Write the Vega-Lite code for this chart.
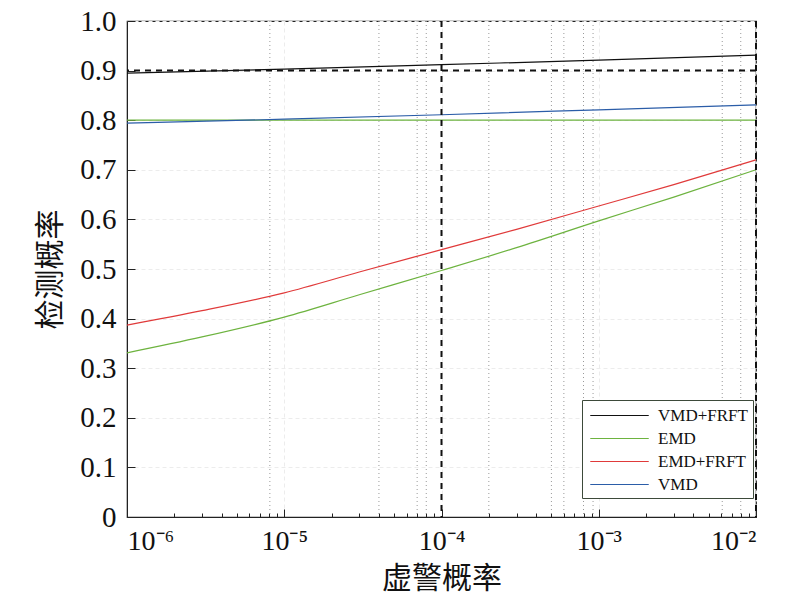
{
  "$schema": "https://vega.github.io/schema/vega-lite/v6.json",
  "width": 629,
  "height": 496,
  "autosize": "none",
  "padding": {"left": 127, "top": 21, "right": 45, "bottom": 95},
  "background": "white",
  "datasets": {
    "curves": [
      {"p": 1e-6, "pd": 0.895, "series": "VMD+FRFT", "line": "a"},
      {"p": 1e-5, "pd": 0.903, "series": "VMD+FRFT", "line": "a"},
      {"p": 1e-4, "pd": 0.912, "series": "VMD+FRFT", "line": "a"},
      {"p": 1e-3, "pd": 0.921, "series": "VMD+FRFT", "line": "a"},
      {"p": 1e-2, "pd": 0.931, "series": "VMD+FRFT", "line": "a"},
      {"p": 1e-6, "pd": 0.800, "series": "EMD", "line": "b2"},
      {"p": 1e-2, "pd": 0.800, "series": "EMD", "line": "b2"},
      {"p": 1e-6, "pd": 0.331, "series": "EMD", "line": "b"},
      {"p": 3e-6, "pd": 0.363, "series": "EMD", "line": "b"},
      {"p": 1e-5, "pd": 0.403, "series": "EMD", "line": "b"},
      {"p": 3e-5, "pd": 0.448, "series": "EMD", "line": "b"},
      {"p": 1e-4, "pd": 0.497, "series": "EMD", "line": "b"},
      {"p": 3e-4, "pd": 0.543, "series": "EMD", "line": "b"},
      {"p": 1e-3, "pd": 0.597, "series": "EMD", "line": "b"},
      {"p": 3e-3, "pd": 0.645, "series": "EMD", "line": "b"},
      {"p": 1e-2, "pd": 0.700, "series": "EMD", "line": "b"},
      {"p": 1e-6, "pd": 0.387, "series": "EMD+FRFT", "line": "c"},
      {"p": 3e-6, "pd": 0.416, "series": "EMD+FRFT", "line": "c"},
      {"p": 1e-5, "pd": 0.452, "series": "EMD+FRFT", "line": "c"},
      {"p": 3e-5, "pd": 0.494, "series": "EMD+FRFT", "line": "c"},
      {"p": 1e-4, "pd": 0.539, "series": "EMD+FRFT", "line": "c"},
      {"p": 3e-4, "pd": 0.580, "series": "EMD+FRFT", "line": "c"},
      {"p": 1e-3, "pd": 0.627, "series": "EMD+FRFT", "line": "c"},
      {"p": 3e-3, "pd": 0.670, "series": "EMD+FRFT", "line": "c"},
      {"p": 1e-2, "pd": 0.720, "series": "EMD+FRFT", "line": "c"},
      {"p": 1e-6, "pd": 0.794, "series": "VMD", "line": "d"},
      {"p": 1e-5, "pd": 0.802, "series": "VMD", "line": "d"},
      {"p": 1e-4, "pd": 0.811, "series": "VMD", "line": "d"},
      {"p": 1e-3, "pd": 0.821, "series": "VMD", "line": "d"},
      {"p": 1e-2, "pd": 0.831, "series": "VMD", "line": "d"}
    ],
    "dots": [
      {"p": 8.1e-6}, {"p": 4.0e-5}, {"p": 7.0e-5}, {"p": 8.0e-5},
      {"p": 2.0e-4}, {"p": 5.0e-4}, {"p": 6.0e-4}, {"p": 8.0e-4},
      {"p": 9.2e-4}, {"p": 6.1e-3}, {"p": 8.0e-3}
    ],
    "vdash": [{"p": 1e-4}, {"p": 1e-2}],
    "hdash": [{"pd": 0.9}]
  },
  "layer": [
    {
      "data": {"name": "dots"},
      "mark": {"type": "rule", "color": "#9a9a9a", "strokeWidth": 1, "strokeDash": [1, 3]},
      "encoding": {
        "x": {"field": "p", "type": "quantitative", "scale": {"type": "log", "domain": [1e-6, 1e-2], "nice": false}}
      }
    },
    {
      "data": {"name": "curves"},
      "mark": {"type": "line", "strokeWidth": 1.2, "interpolate": "monotone"},
      "encoding": {
        "x": {
          "field": "p",
          "type": "quantitative",
          "scale": {"type": "log", "domain": [1e-6, 1e-2], "nice": false},
          "axis": {
            "title": "虚警概率",
            "values": [1e-6, 2e-6, 3e-6, 4e-6, 5e-6, 6e-6, 7e-6, 8e-6, 9e-6,
                       1e-5, 2e-5, 3e-5, 4e-5, 5e-5, 6e-5, 7e-5, 8e-5, 9e-5,
                       1e-4, 2e-4, 3e-4, 4e-4, 5e-4, 6e-4, 7e-4, 8e-4, 9e-4,
                       1e-3, 2e-3, 3e-3, 4e-3, 5e-3, 6e-3, 7e-3, 8e-3, 9e-3, 1e-2],
            "labelExpr": "datum.value == 1e-6 ? '10⁻⁶' : datum.value == 1e-5 ? '10⁻⁵' : datum.value == 1e-4 ? '10⁻⁴' : datum.value == 1e-3 ? '10⁻³' : datum.value == 1e-2 ? '10⁻²' : ''",
            "labelFlush": true,
            "labelFontSize": 28,
            "tickSize": {
              "condition": {"test": "abs(log(datum.value)/LN10 - round(log(datum.value)/LN10)) < 0.001", "value": -8},
              "value": -4
            },
            "gridOpacity": {
              "condition": {"test": "abs(log(datum.value)/LN10 - round(log(datum.value)/LN10)) < 0.001", "value": 1},
              "value": 0
            },
            "labelPadding": 18,
            "titlePadding": 8
          }
        },
        "y": {
          "field": "pd",
          "type": "quantitative",
          "scale": {"domain": [0, 1], "nice": false},
          "axis": {
            "title": "检测概率",
            "values": [0, 0.1, 0.2, 0.3, 0.4, 0.5, 0.6, 0.7, 0.8, 0.9, 1.0],
            "labelExpr": "datum.value == 0 ? '0' : format(datum.value, '.1f')",
            "tickSize": -8,
            "labelPadding": 19,
            "titlePadding": 14
          }
        },
        "color": {
          "field": "series",
          "type": "nominal",
          "scale": {
            "domain": ["VMD+FRFT", "EMD", "EMD+FRFT", "VMD"],
            "range": ["#111111", "#6db33f", "#e03a3a", "#2b5da8"]
          },
          "legend": {
            "title": null,
            "orient": "none",
            "legendX": 455,
            "legendY": 379,
            "symbolType": "M-3,0H3",
            "symbolSize": 380,
            "symbolOffset": 22,
            "symbolStrokeWidth": 1.2,
            "labelOffset": 28,
            "labelFont": "Liberation Serif",
            "labelFontSize": 17,
            "labelColor": "#111111",
            "rowPadding": 4,
            "padding": 5,
            "strokeColor": "#3d4a3a",
            "fillColor": "white",
            "cornerRadius": 0
          }
        },
        "detail": {"field": "line", "type": "nominal"}
      }
    },
    {
      "data": {"name": "vdash"},
      "mark": {"type": "rule", "color": "#111111", "strokeWidth": 2, "strokeDash": [6, 5]},
      "encoding": {
        "x": {"field": "p", "type": "quantitative"}
      }
    },
    {
      "data": {"name": "hdash"},
      "mark": {"type": "rule", "color": "#111111", "strokeWidth": 2, "strokeDash": [6, 5]},
      "encoding": {
        "y": {"field": "pd", "type": "quantitative"}
      }
    }
  ],
  "config": {
    "view": {"stroke": "#222222", "strokeWidth": 1.2},
    "axis": {
      "labelFont": "Liberation Serif",
      "labelFontSize": 29,
      "labelColor": "#111111",
      "titleFont": "Noto Sans CJK SC",
      "titleFontSize": 30,
      "titleFontWeight": "normal",
      "titleColor": "#111111",
      "domainColor": "#222222",
      "tickColor": "#222222",
      "gridColor": "#ececec",
      "gridDash": [4, 3]
    }
  }
}
